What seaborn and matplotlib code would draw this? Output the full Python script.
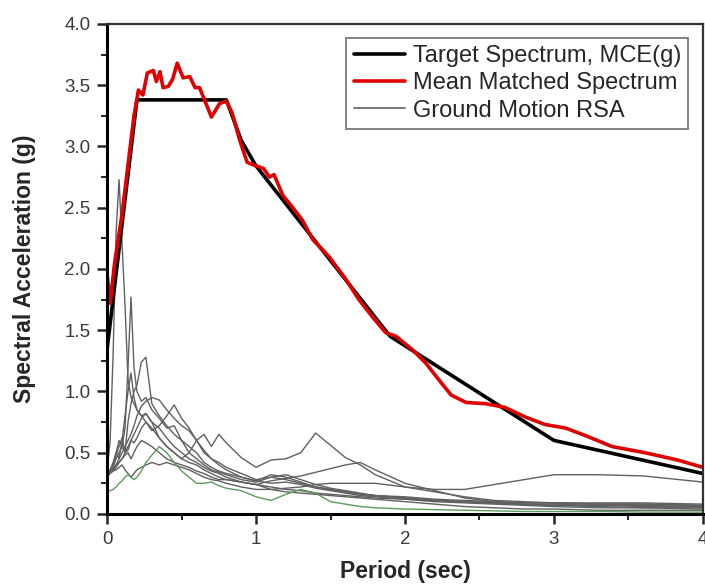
import pandas as pd
import matplotlib.pyplot as plt
import seaborn as sns
from matplotlib.lines import Line2D
from matplotlib.ticker import MultipleLocator

# 1. Target spectrum (MCE)
period_target = [0, 0.2, 0.8, 0.9, 1.0, 1.9, 3.0, 4.0]
sa_target = [1.35, 3.38, 3.38, 3.05, 2.84, 1.45, 0.60, 0.33]

# 2. Mean matched spectrum
period_mean = [0, 0.02, 0.05, 0.10, 0.15, 0.18, 0.21, 0.24, 0.27, 0.31,
               0.33, 0.355, 0.375, 0.41, 0.44, 0.47, 0.51, 0.555, 0.59, 0.62,
               0.66, 0.70, 0.755, 0.80, 0.84, 0.89, 0.94, 0.98, 1.05, 1.09,
               1.12, 1.18, 1.24, 1.31, 1.38, 1.49, 1.60, 1.69, 1.78, 1.87,
               1.94, 2.05, 2.14, 2.23, 2.31, 2.41, 2.54, 2.67, 2.81, 2.94,
               3.08, 3.21, 3.39, 3.61, 3.83, 4.0]
sa_mean = [1.95, 1.72, 2.05, 2.45, 2.95, 3.25, 3.46, 3.42, 3.60, 3.62,
           3.53, 3.61, 3.48, 3.49, 3.55, 3.68, 3.56, 3.57, 3.48, 3.48,
           3.36, 3.24, 3.35, 3.37, 3.27, 3.05, 2.87, 2.85, 2.82, 2.75,
           2.77, 2.60, 2.51, 2.40, 2.24, 2.10, 1.92, 1.75, 1.61, 1.48,
           1.45, 1.34, 1.23, 1.09, 0.97, 0.91, 0.90, 0.87, 0.79, 0.73,
           0.70, 0.64, 0.55, 0.50, 0.44, 0.38]

# 3. Ground motion response spectra (unscaled records)
period_gm = [0, 0.02, 0.04, 0.06, 0.08, 0.10, 0.12, 0.14, 0.16, 0.18,
             0.20, 0.23, 0.26, 0.30, 0.35, 0.40, 0.45, 0.50, 0.55, 0.60,
             0.65, 0.70, 0.75, 0.80, 0.90, 1.0, 1.1, 1.2, 1.3, 1.4,
             1.5, 1.6, 1.7, 1.8, 2.0, 2.2, 2.4, 2.6, 2.8, 3.0,
             3.3, 3.6, 4.0]
gm1 = [0.35, 0.60, 1.30, 2.30, 2.73, 2.20, 1.70, 1.10, 0.95, 0.90,
       0.85, 0.80, 0.82, 0.75, 0.70, 0.62, 0.55, 0.50, 0.45, 0.42,
       0.38, 0.35, 0.33, 0.30, 0.26, 0.24, 0.22, 0.20, 0.19, 0.17,
       0.16, 0.15, 0.14, 0.13, 0.12, 0.11, 0.10, 0.09, 0.08, 0.07,
       0.06, 0.05, 0.05]
gm2 = [0.33, 0.36, 0.42, 0.50, 0.60, 0.55, 0.70, 1.20, 1.77, 1.20,
       1.00, 0.92, 0.95, 0.85, 0.78, 0.70, 0.72, 0.60, 0.50, 0.45,
       0.40, 0.36, 0.34, 0.32, 0.28, 0.26, 0.30, 0.28, 0.25, 0.22,
       0.20, 0.18, 0.16, 0.15, 0.13, 0.11, 0.10, 0.09, 0.08, 0.07,
       0.07, 0.06, 0.06]
gm3 = [0.33, 0.35, 0.40, 0.48, 0.55, 0.62, 0.50, 0.75, 0.90, 1.00,
       1.05, 1.24, 1.28, 0.90, 0.80, 0.72, 0.65, 0.60, 0.55, 0.50,
       0.42, 0.38, 0.35, 0.33, 0.30, 0.27, 0.25, 0.26, 0.24, 0.21,
       0.19, 0.17, 0.15, 0.14, 0.12, 0.10, 0.09, 0.08, 0.07, 0.06,
       0.05, 0.05, 0.04]
gm4 = [0.32, 0.34, 0.36, 0.40, 0.45, 0.50, 0.55, 0.60, 0.65, 0.72,
       0.80, 0.88, 0.92, 0.95, 0.93, 0.85, 0.78, 0.72, 0.68, 0.60,
       0.52, 0.45, 0.40, 0.36, 0.30, 0.27, 0.32, 0.30, 0.26, 0.22,
       0.20, 0.18, 0.16, 0.15, 0.13, 0.11, 0.10, 0.09, 0.08, 0.08,
       0.07, 0.07, 0.06]
gm5 = [0.30, 0.33, 0.38, 0.45, 0.50, 0.55, 0.50, 0.52, 0.60, 0.58,
       0.62, 0.70, 0.75, 0.68, 0.72, 0.80, 0.89, 0.78, 0.70, 0.60,
       0.50, 0.45, 0.42, 0.38, 0.33, 0.28, 0.30, 0.32, 0.28, 0.24,
       0.21, 0.19, 0.17, 0.15, 0.14, 0.12, 0.11, 0.10, 0.09, 0.09,
       0.08, 0.08, 0.07]
gm6 = [0.33, 0.34, 0.36, 0.40, 0.42, 0.45, 0.50, 0.55, 0.60, 0.65,
       0.70, 0.78, 0.82, 0.75, 0.62, 0.55, 0.50, 0.45, 0.50, 0.60,
       0.65, 0.55, 0.65, 0.58, 0.46, 0.38, 0.44, 0.45, 0.50, 0.66,
       0.56, 0.46, 0.40, 0.32, 0.22, 0.18, 0.14, 0.11, 0.10, 0.09,
       0.08, 0.08, 0.07]
gm7 = [0.32, 0.33, 0.35, 0.38, 0.42, 0.45, 0.48, 0.50, 0.45, 0.50,
       0.55, 0.60, 0.58, 0.55, 0.50, 0.45, 0.42, 0.40, 0.38, 0.35,
       0.33, 0.30, 0.28, 0.28, 0.26, 0.24, 0.27, 0.29, 0.31, 0.34,
       0.37, 0.40, 0.42, 0.36, 0.25, 0.19, 0.13, 0.10, 0.09, 0.09,
       0.09, 0.09, 0.08]
gm8 = [0.33, 0.34, 0.35, 0.36, 0.38, 0.40, 0.36, 0.33, 0.30, 0.33,
       0.36, 0.38, 0.40, 0.42, 0.40, 0.42, 0.40, 0.38, 0.36, 0.33,
       0.30, 0.28, 0.27, 0.25, 0.22, 0.20, 0.20, 0.21, 0.22, 0.24,
       0.25, 0.25, 0.25, 0.25, 0.22, 0.20, 0.20, 0.24, 0.28, 0.32,
       0.32, 0.31, 0.26]
gm9 = [0.34, 0.36, 0.40, 0.50, 0.45, 0.60, 0.80, 1.00, 1.15, 0.95,
       0.85, 0.80, 0.75, 0.70, 0.62, 0.55, 0.50, 0.45, 0.42, 0.40,
       0.36, 0.33, 0.30, 0.28, 0.26, 0.24, 0.20, 0.18, 0.17, 0.16,
       0.15, 0.14, 0.13, 0.12, 0.10, 0.08, 0.06, 0.05, 0.04, 0.04,
       0.03, 0.03, 0.03]
gm_green = [0.18, 0.19, 0.20, 0.22, 0.25, 0.27, 0.30, 0.32, 0.30, 0.28,
            0.30, 0.35, 0.42, 0.48, 0.55, 0.50, 0.42, 0.35, 0.30, 0.25,
            0.25, 0.26, 0.23, 0.21, 0.19, 0.14, 0.11, 0.16, 0.20, 0.17,
            0.10, 0.08, 0.06, 0.05, 0.04, 0.035, 0.03, 0.025, 0.02, 0.02,
            0.02, 0.015, 0.015]

gray_records = [gm1, gm2, gm3, gm4, gm5, gm6, gm7, gm8, gm9]

# 4. Style
sns.set_style("ticks")
plt.rcParams['font.family'] = ['Liberation Sans', 'DejaVu Sans']

fig, ax = plt.subplots(figsize=(7.05, 5.84), dpi=100)
fig.subplots_adjust(left=0.152, right=0.997, bottom=0.12, top=0.959)

# 5. Plot
for rec in gray_records:
    sns.lineplot(x=period_gm, y=rec, ax=ax, color='#606060', lw=1.0)
sns.lineplot(x=period_gm, y=gm_green, ax=ax, color='#5c9c5c', lw=1.0)
sns.lineplot(x=period_target, y=sa_target, ax=ax, color='black', lw=2.6)
sns.lineplot(x=period_mean, y=sa_mean, ax=ax, color='#e00000', lw=2.6)

ax.set_xlim(0, 4)
ax.set_ylim(0, 4)
ax.xaxis.set_major_locator(MultipleLocator(1))
ax.xaxis.set_minor_locator(MultipleLocator(0.5))
ax.yaxis.set_major_locator(MultipleLocator(0.5))
ax.yaxis.set_minor_locator(MultipleLocator(0.25))
ax.yaxis.set_major_formatter(plt.FormatStrFormatter('%.1f'))
ax.tick_params(which='major', length=7, width=1.8, labelsize=13.5,
               labelcolor='#3a3a3a', pad=5)
ax.tick_params(which='minor', length=4, width=1.5)

for side in ['left', 'bottom']:
    ax.spines[side].set_linewidth(2.2)
    ax.spines[side].set_color('black')
for side in ['top', 'right']:
    ax.spines[side].set_visible(True)
    ax.spines[side].set_linewidth(1.6)
    ax.spines[side].set_color('#333333')

ax.set_xlabel("Period (sec)", fontsize=16.5, fontweight='bold')
ax.set_ylabel("Spectral Acceleration (g)", fontsize=16.5, fontweight='bold')
ax.xaxis.set_label_coords(0.5, -0.095)
ax.yaxis.set_label_coords(-0.12, 0.5)

handles = [Line2D([], [], color='black', lw=2.6),
           Line2D([], [], color='#e00000', lw=2.6),
           Line2D([], [], color='#606060', lw=1.2)]
labels = ["Target Spectrum, MCE(g)", "Mean Matched Spectrum", "Ground Motion RSA"]
leg = ax.legend(handles, labels, loc='upper right', bbox_to_anchor=(0.975, 0.971),
                fontsize=17, frameon=True, fancybox=False, borderaxespad=0,
                handlelength=2.2, handletextpad=0.3, borderpad=0.3,
                labelspacing=0.22)
leg.get_frame().set_edgecolor('#555555')
leg.get_frame().set_linewidth(1.3)

plt.savefig("out.png", dpi=100)
